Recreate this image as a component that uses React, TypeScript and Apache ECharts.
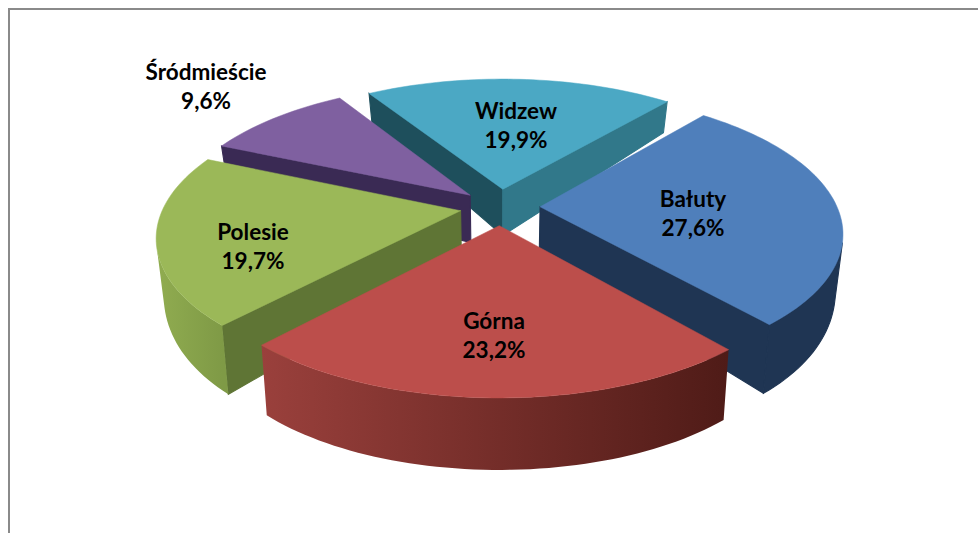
import React, { useEffect, useRef } from "react";
import * as echarts from "echarts";

const categories = ["Bałuty", "Górna", "Polesie", "Śródmieście", "Widzew"];
const shares = [27.6, 23.2, 19.7, 9.6, 19.9];
const shareLabels = ["27,6%", "23,2%", "19,7%", "9,6%", "19,9%"];
const topColors = ["#4F7FBB", "#BC4E4B", "#9BB858", "#7F60A0", "#4BA8C4"];
const startWallColors = ["#1F3553", "#7A2F2D", "#5F7535", "#3A2A54", "#1E4F5C"];
const endWallColors = ["#1F3553", "#7A2F2D", "#5F7535", "#3A2A54", "#31788A"];
const arcStartColors = ["#1F3553", "#4F1B17", "#7F9A46", "#3A2A54", "#31788A"];
const arcEndColors = ["#1F3553", "#9A403C", "#90AC50", "#3A2A54", "#31788A"];
const drawOrder = [4, 3, 2, 0, 1];
const labelAnchors = [[693, 213], [494, 335], [253, 246], [206, 86], [516, 125]];

const START_ANGLE = 39.9;
const EXPLODE = 0.135;
const CX = 500;
const CY = 207;
const SCALE_X = 297;
const SCALE_Y = 135;
const PERSPECTIVE = 0.174;
const BOTTOM_SHRINK = 0.978;

type Pt = [number, number];
const rad = (d: number) => (d * Math.PI) / 180;

function project(X: number, Y: number): { top: Pt; bottom: Pt } {
  const w = 1 + PERSPECTIVE * Y;
  const sx = CX + (SCALE_X * X) / w;
  const sy = CY - (SCALE_Y * Y) / w;
  const depth = Y >= 0 ? 49 - 20 * Y : 49 - 37.4 * Y - 15.1 * Y * Y;
  return { top: [sx, sy], bottom: [CX + (sx - CX) * BOTTOM_SHRINK, sy + depth] };
}

function poly(points: Pt[], fill: any, lw = 1.1) {
  const stroke = typeof fill === "string" ? fill : "none";
  return { type: "polygon", shape: { points }, style: { fill, stroke, lineWidth: stroke === "none" ? 0 : lw } };
}

function area(q: Pt[]) {
  let s = 0;
  q.forEach((p, i) => {
    const n = q[(i + 1) % q.length];
    s += p[0] * n[1] - n[0] * p[1];
  });
  return s;
}

function renderSlice(params: any) {
  const idx = drawOrder[params.dataIndex];
  const total = shares.reduce((a, b) => a + b, 0);
  const before = shares.slice(0, idx).reduce((a, b) => a + b, 0);
  const a0 = START_ANGLE + (before / total) * 360;
  const a1 = a0 + (shares[idx] / total) * 360;
  const mid = rad((a0 + a1) / 2);
  const ox = EXPLODE * Math.sin(mid);
  const oy = EXPLODE * Math.cos(mid);

  const steps = Math.max(2, Math.round((a1 - a0) / 1.5));
  const apex = project(ox, oy);
  const arc: { top: Pt; bottom: Pt }[] = [];
  for (let i = 0; i <= steps; i++) {
    const a = rad(a0 + ((a1 - a0) * i) / steps);
    arc.push(project(ox + Math.sin(a), oy + Math.cos(a)));
  }

  const children: any[] = [];
  const wall = (p: { top: Pt; bottom: Pt }, n: { top: Pt; bottom: Pt }, color: string) => {
    const q: Pt[] = [p.top, n.top, n.bottom, p.bottom];
    if (area(q) < 0) children.push(poly(q, color));
  };
  wall(apex, arc[0], startWallColors[idx]);
  wall(arc[steps], apex, endWallColors[idx]);

  const visible = arc.filter((p, i) => {
    const n = arc[i + 1] || p;
    const prev = arc[i - 1] || p;
    return (
      area([p.top, n.top, n.bottom, p.bottom]) < 0 ||
      area([prev.top, p.top, p.bottom, prev.bottom]) < 0
    );
  });
  if (visible.length > 1) {
    const first = visible[0].top;
    const last = visible[visible.length - 1].top;
    const fill =
      arcStartColors[idx] === arcEndColors[idx]
        ? arcStartColors[idx]
        : new echarts.graphic.LinearGradient(
            first[0], 0, last[0], 0,
            [
              { offset: 0, color: arcStartColors[idx] },
              { offset: 1, color: arcEndColors[idx] },
            ],
            true
          );
    children.push(
      poly(
        [...visible.map((p) => p.top), ...visible.slice().reverse().map((p) => p.bottom)],
        fill
      )
    );
  }
  children.push(poly([apex.top, ...arc.map((p) => p.top)], topColors[idx], 0.5));
  children.push({
    type: "text",
    style: {
      text: `${categories[idx]}\n${shareLabels[idx]}`,
      x: labelAnchors[idx][0],
      y: labelAnchors[idx][1],
      align: "center",
      verticalAlign: "middle",
      fontFamily: "Lato",
      fontWeight: "bold",
      fontSize: 22.5,
      lineHeight: 29,
      fill: "#000",
    },
  });
  return { type: "group", children };
}

export default function App() {
  const ref = useRef<HTMLDivElement>(null);
  useEffect(() => {
    document.body.style.margin = "0";
    const chart = echarts.init(ref.current!, undefined, { renderer: "svg" });
    chart.setOption({
      animation: false,
      backgroundColor: "#fff",
      graphic: [
        {
          type: "polyline",
          shape: { points: [[9, 533], [9, 9], [978, 9]] },
          style: { stroke: "#8A8A8A", lineWidth: 2, fill: "none" },
          silent: true,
        },
      ],
      series: [
        {
          type: "custom",
          coordinateSystem: "none",
          silent: true,
          data: drawOrder.map((i) => [i, shares[i]]),
          renderItem: renderSlice,
        },
      ],
    });
    return () => chart.dispose();
  }, []);
  return <div ref={ref} style={{ width: 978, height: 533 }} />;
}
